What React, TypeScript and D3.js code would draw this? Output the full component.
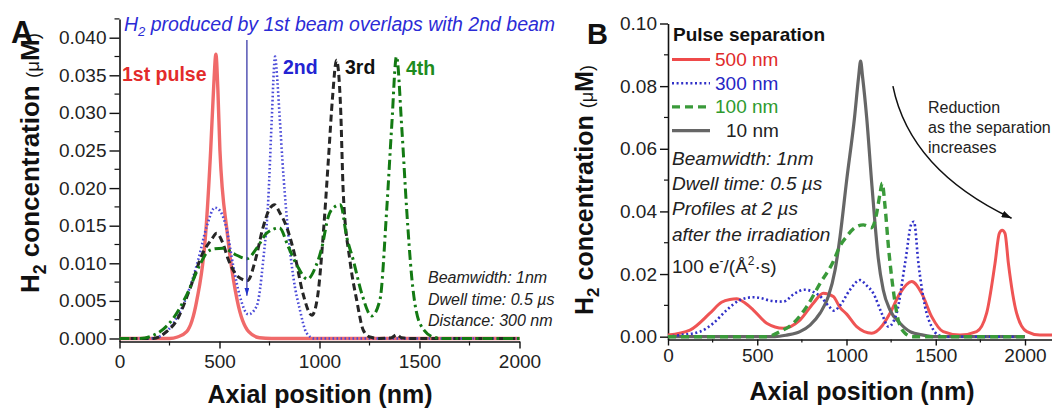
import React, { useEffect, useRef } from 'react';
import * as d3 from 'd3';

type Pt = [number, number];

// Panel A: H2 profiles after the 1st..4th pulse (axial position nm, concentration uM)
const pulse1st: Pt[] = [[0, 0], [250, 0], [290, 0.0002], [336, 0.0009], [386, 0.005], [431, 0.014], [456, 0.0251], [470, 0.033], [482, 0.0378], [492, 0.033], [502, 0.0251], [539, 0.014], [589, 0.005], [646, 0.0009], [700, 0.0001], [760, 0], [2000, 0]];
const pulse2nd: Pt[] = [[0, 0], [150, 0], [194, 0.0002], [269, 0.002], [336, 0.0056], [394, 0.0105], [436, 0.0149], [477, 0.0174], [502, 0.017], [536, 0.0145], [569, 0.0096], [602, 0.0056], [644, 0.0032], [686, 0.0043], [719, 0.0105], [744, 0.0185], [761, 0.029], [778, 0.0375], [790, 0.034], [802, 0.029], [815, 0.0235], [836, 0.0162], [869, 0.0082], [902, 0.0038], [936, 0.0007], [975, 0], [2000, 0]];
const pulse3rd: Pt[] = [[0, 0], [170, 0], [230, 0.0008], [286, 0.0024], [352, 0.0066], [419, 0.0115], [461, 0.0132], [486, 0.014], [515, 0.0128], [544, 0.0105], [594, 0.0082], [640, 0.0077], [680, 0.0105], [715, 0.0145], [750, 0.0172], [775, 0.0178], [800, 0.0168], [836, 0.0148], [877, 0.011], [917, 0.006], [962, 0.0031], [990, 0.0055], [1022, 0.015], [1045, 0.024], [1065, 0.032], [1085, 0.037], [1105, 0.031], [1119, 0.0193], [1152, 0.0104], [1186, 0.0051], [1219, 0.0011], [1252, 0.0002], [1300, 0], [1360, 0.0001], [1386, 0.0005], [1410, 0.0001], [1450, 0], [2000, 0]];
const pulse4th: Pt[] = [[0, 0], [100, 0], [202, 0.0009], [269, 0.0027], [336, 0.0058], [402, 0.0098], [436, 0.0114], [470, 0.0119], [519, 0.012], [577, 0.0112], [636, 0.0106], [686, 0.012], [736, 0.014], [800, 0.0147], [844, 0.0122], [886, 0.0098], [940, 0.0079], [980, 0.0095], [1011, 0.012], [1044, 0.0162], [1075, 0.0175], [1105, 0.0178], [1136, 0.0135], [1169, 0.0104], [1211, 0.006], [1261, 0.003], [1302, 0.0051], [1336, 0.0171], [1361, 0.0282], [1385, 0.0375], [1411, 0.0282], [1436, 0.0171], [1461, 0.0082], [1502, 0.002], [1569, 0.0002], [1620, 0], [2000, 0]];

// Panel B: profiles for different pulse separations
const sep500: Pt[] = [[0, 0.0005], [123, 0.0021], [235, 0.0075], [300, 0.011], [347, 0.0119], [385, 0.0121], [430, 0.0108], [478, 0.0085], [553, 0.0043], [646, 0.0027], [739, 0.0053], [814, 0.0107], [870, 0.0139], [926, 0.0128], [964, 0.0093], [1001, 0.0072], [1057, 0.0032], [1141, 0.0011], [1200, 0.0035], [1244, 0.0075], [1300, 0.0139], [1365, 0.0176], [1421, 0.0139], [1477, 0.0064], [1542, 0.0016], [1636, 0.0005], [1729, 0.0016], [1785, 0.0075], [1832, 0.0234], [1856, 0.033], [1872, 0.034], [1888, 0.033], [1907, 0.0234], [1953, 0.0075], [2010, 0.0016], [2084, 0.0005], [2200, 0.0005]];
const sep300: Pt[] = [[0, 0], [67, 0.0005], [179, 0.0016], [254, 0.0043], [329, 0.0085], [403, 0.0117], [478, 0.0126], [530, 0.0122], [571, 0.0115], [646, 0.0112], [710, 0.0138], [765, 0.015], [814, 0.0143], [860, 0.0125], [900, 0.0098], [930, 0.0083], [964, 0.01], [1020, 0.015], [1076, 0.0181], [1110, 0.0165], [1150, 0.0139], [1197, 0.0075], [1235, 0.0032], [1260, 0.0045], [1281, 0.0075], [1328, 0.0234], [1365, 0.0362], [1378, 0.0367], [1403, 0.0234], [1440, 0.0096], [1477, 0.0032], [1515, 0.0005], [1560, 0], [2000, 0]];
const sep100: Pt[] = [[0, 0], [550, 0], [627, 0.0016], [702, 0.0043], [777, 0.0096], [852, 0.017], [926, 0.024], [964, 0.029], [1001, 0.032], [1040, 0.0345], [1094, 0.0357], [1141, 0.0348], [1169, 0.0394], [1188, 0.0458], [1200, 0.049], [1216, 0.0415], [1235, 0.0287], [1262, 0.0149], [1290, 0.0053], [1328, 0.0011], [1370, 0], [2000, 0]];
const sep10: Pt[] = [[0, 0], [600, 0], [665, 0.0005], [739, 0.0016], [796, 0.0037], [852, 0.0075], [898, 0.0128], [936, 0.0213], [964, 0.032], [1001, 0.05], [1045, 0.07], [1068, 0.083], [1079, 0.088], [1090, 0.083], [1113, 0.07], [1140, 0.05], [1157, 0.038], [1178, 0.025], [1206, 0.0149], [1244, 0.0085], [1300, 0.0043], [1356, 0.0016], [1430, 0.0005], [1500, 0], [2000, 0]];

const xTicksA = [0, 500, 1000, 1500, 2000];
const yTicksA = [0, 0.005, 0.01, 0.015, 0.02, 0.025, 0.03, 0.035, 0.04];
const xTicksB = [0, 500, 1000, 1500, 2000];
const yTicksB = [0, 0.02, 0.04, 0.06, 0.08, 0.1];
const legendLabels = ['500 nm', '300 nm', '100 nm', '10 nm'];
const notesA = ['Beamwidth: 1nm', 'Dwell time: 0.5 \u00b5s', 'Distance: 300 nm'];
const notesB = ['Beamwidth: 1nm', 'Dwell time: 0.5 \u00b5s', 'Profiles at 2 \u00b5s', 'after the irradiation'];
const reductionLines = ['Reduction', 'as the separation', 'increases'];

const FONT = '"Liberation Sans", Arial, Helvetica, sans-serif';

export default function App() {
    const svgRef = useRef<SVGSVGElement>(null);

    useEffect(() => {
        const svg = d3.select(svgRef.current);
        svg.selectAll('*').remove();
        svg.attr('width', 1052).attr('height', 409).style('font-family', FONT);

        const defs = svg.append('defs');
        defs.append('marker').attr('id', 'headBlue')
            .attr('viewBox', '0 0 10 10').attr('refX', 10).attr('refY', 5)
            .attr('markerUnits', 'userSpaceOnUse').attr('markerWidth', 8).attr('markerHeight', 5)
            .attr('orient', 'auto').attr('preserveAspectRatio', 'none')
            .append('path').attr('d', 'M0,0L10,5L0,10z').attr('fill', '#2233cc');
        defs.append('marker').attr('id', 'headBlack')
            .attr('viewBox', '0 0 10 10').attr('refX', 10).attr('refY', 5)
            .attr('markerUnits', 'userSpaceOnUse').attr('markerWidth', 10).attr('markerHeight', 7)
            .attr('orient', 'auto').attr('preserveAspectRatio', 'none')
            .append('path').attr('d', 'M0,0L10,5L0,10z').attr('fill', '#111');

        const xA = d3.scaleLinear().domain([0, 2000]).range([119.5, 519.5]);
        const yA = d3.scaleLinear().domain([-0.0004, 0.0425]).range([341.5, 18.9]);
        const xB = d3.scaleLinear().domain([0, 2200]).range([668, 1060.7]);
        const yB = d3.scaleLinear().domain([-0.0009, 0.1]).range([339.5, 23.5]);

        function axes(x, y, xt, yt, yFmt, o) {
            const g = svg.append('g');
            const gx = g.append('g').attr('transform', `translate(0,${y.range()[0]})`)
                .call(d3.axisBottom(x).tickValues(xt).tickSize(o.xMajor).tickPadding(o.xPad).tickSizeOuter(0).tickFormat(d3.format('d')));
            const gy = g.append('g').attr('transform', `translate(${x.range()[0]},0)`)
                .call(d3.axisLeft(y).tickValues(yt).tickSize(o.yMajor).tickPadding(3).tickSizeOuter(0).tickFormat(d3.format(yFmt)));
            [gx, gy].forEach(a => {
                a.attr('font-family', FONT).attr('font-size', 19);
                a.select('.domain').attr('stroke', '#111').attr('stroke-width', 1.6);
                a.selectAll('.tick line').attr('stroke', '#111').attr('stroke-width', 1.4);
                a.selectAll('.tick text').attr('fill', '#222');
            });
            o.xMinor.forEach(v => {
                g.append('line').attr('x1', x(v)).attr('x2', x(v))
                    .attr('y1', y.range()[0]).attr('y2', y.range()[0] + o.xMinorLen)
                    .attr('stroke', '#111').attr('stroke-width', 1.2);
            });
            o.yMinor.forEach(v => {
                g.append('line').attr('y1', y(v)).attr('y2', y(v))
                    .attr('x1', x.range()[0]).attr('x2', x.range()[0] - o.yMinorLen)
                    .attr('stroke', '#111').attr('stroke-width', 1.2);
            });
        }

        const xMinorA = d3.range(250, 2000, 500);
        const yMinorA = d3.range(0.0025, 0.043, 0.005);
        const xMinorB = d3.range(250, 2200, 500);
        const yMinorB = d3.range(0.01, 0.1, 0.02);

        axes(xA, yA, xTicksA, yTicksA, '.3f', {xMajor: 7, xPad: 6, yMajor: 10, xMinor: xMinorA, yMinor: yMinorA, xMinorLen: 4, yMinorLen: 5});
        axes(xB, yB, xTicksB, yTicksB, '.2f', {xMajor: 6, xPad: 3, yMajor: 8, xMinor: xMinorB, yMinor: yMinorB, xMinorLen: 3, yMinorLen: 4});

        function curve(data, x, y, color, width, dash) {
            const line = d3.line<Pt>().x(d => x(d[0])).y(d => y(d[1])).curve(d3.curveMonotoneX);
            svg.append('path').datum(data)
                .attr('fill', 'none').attr('stroke', color).attr('stroke-width', width)
                .attr('stroke-dasharray', dash).attr('stroke-linejoin', 'round')
                .attr('d', line);
        }

        // panel A curves
        curve(pulse1st, xA, yA, '#f06a6a', 3.4, null);
        curve(pulse2nd, xA, yA, '#4a4ad8', 2.6, '1.6,2.4');
        curve(pulse3rd, xA, yA, '#262626', 3, '7,4');
        curve(pulse4th, xA, yA, '#137a13', 3, '10,4,2.5,4');

        // panel B curves
        curve(sep500, xB, yB, '#ef5454', 3, null);
        curve(sep10, xB, yB, '#666666', 3.2, null);
        curve(sep300, xB, yB, '#3030c8', 2.6, '2,2.6');
        curve(sep100, xB, yB, '#3a9a3a', 3.4, '8,5');

        // panel letters
        svg.append('text').attr('x', 11).attr('y', 43).attr('font-size', 31).attr('font-weight', 'bold').attr('fill', '#111').text('A');
        svg.append('text').attr('x', 587).attr('y', 44).attr('font-size', 29).attr('font-weight', 'bold').attr('fill', '#111').text('B');

        // y titles
        function yTitle(x0, y0, size) {
            const t = svg.append('text').attr('transform', `translate(${x0},${y0}) rotate(-90)`)
                .attr('font-weight', 'bold').attr('font-size', size).attr('fill', '#111');
            t.append('tspan').text('H');
            t.append('tspan').attr('font-size', size * 0.68).attr('dy', size * 0.25).text('2');
            t.append('tspan').attr('dy', -size * 0.25).text(' concentration ');
            t.append('tspan').attr('font-weight', 'normal').attr('font-size', size * 0.72).text('(\u03bc');
            t.append('tspan').text('M');
            t.append('tspan').attr('font-weight', 'normal').attr('font-size', size * 0.72).text(')');
        }
        yTitle(39, 293, 26);
        yTitle(593, 315, 25);

        // x titles
        svg.append('text').attr('x', 320).attr('y', 403).attr('text-anchor', 'middle')
            .attr('font-size', 25).attr('font-weight', 'bold').attr('fill', '#111').text('Axial position (nm)');
        svg.append('text').attr('x', 862).attr('y', 400).attr('text-anchor', 'middle')
            .attr('font-size', 25).attr('font-weight', 'bold').attr('fill', '#111').text('Axial position (nm)');

        // panel A annotations
        const title = svg.append('text').attr('x', 124).attr('y', 31).attr('font-size', 19.5)
            .attr('font-style', 'italic').attr('fill', '#2b2bd6');
        title.append('tspan').text('H');
        title.append('tspan').attr('font-size', 13).attr('dy', 5).text('2');
        title.append('tspan').attr('dy', -5).text(' produced by 1st beam overlaps with 2nd beam');

        svg.append('line').attr('x1', xA(637)).attr('x2', xA(637))
            .attr('y1', yA(0.0397)).attr('y2', yA(0.0057))
            .attr('stroke', '#3a3aa8').attr('stroke-width', 1.3).attr('marker-end', 'url(#headBlue)');

        const pulseLabel = (txt, x, y, color) => svg.append('text').attr('x', x).attr('y', y)
            .attr('font-size', 19.5).attr('font-weight', 'bold').attr('fill', color).text(txt);
        pulseLabel('1st pulse', 122, 81, '#e32b2b');
        pulseLabel('2nd', 283, 74, '#2323d2');
        pulseLabel('3rd', 345, 74, '#111');
        pulseLabel('4th', 406, 75, '#1e8c1e');

        notesA.forEach((s, i) => {
            svg.append('text').attr('x', 428).attr('y', 283 + i * 21.5).attr('font-size', 16)
                .attr('font-style', 'italic').attr('fill', '#222').text(s);
        });

        // panel B legend
        svg.append('text').attr('x', 673).attr('y', 41).attr('font-size', 19)
            .attr('font-weight', 'bold').attr('fill', '#111').text('Pulse separation');
        const legStyles = [
            {c: '#ef4a4a', t: '#e02a2a', w: 3, d: null},
            {c: '#3030c8', t: '#2626c4', w: 2.6, d: '2,2.6'},
            {c: '#3a9a3a', t: '#2e9a2e', w: 3.4, d: '8,5'},
            {c: '#666666', t: '#222', w: 3.4, d: null},
        ];
        legendLabels.forEach((s, i) => {
            const yy = 59.5 + i * 23.7;
            const st = legStyles[i];
            svg.append('line').attr('x1', 672).attr('x2', 710).attr('y1', yy).attr('y2', yy)
                .attr('stroke', st.c).attr('stroke-width', st.w).attr('stroke-dasharray', st.d);
            svg.append('text').attr('x', i === 3 ? 726 : 715).attr('y', yy + 6.5).attr('font-size', 19)
                .attr('fill', st.t).text(s);
        });

        notesB.forEach((s, i) => {
            svg.append('text').attr('x', 672).attr('y', 165 + i * 25.2).attr('font-size', 19)
                .attr('font-style', 'italic').attr('fill', '#222').text(s);
        });
        const dose = svg.append('text').attr('x', 672).attr('y', 273).attr('font-size', 19).attr('fill', '#222');
        dose.append('tspan').text('100 e');
        dose.append('tspan').attr('font-size', 12).attr('dy', -8).text('-');
        dose.append('tspan').attr('dy', 8).text('/(\u00c5');
        dose.append('tspan').attr('font-size', 12).attr('dy', -8).text('2');
        dose.append('tspan').attr('dy', 8).text('\u00b7s)');

        // reduction arrow
        const p0 = [xB(1260), yB(0.080)];
        const p1 = [xB(1356), yB(0.0532)];
        const p2 = [xB(1925), yB(0.0378)];
        svg.append('path').attr('d', `M${p0[0]},${p0[1]}Q${p1[0]},${p1[1]} ${p2[0]},${p2[1]}`)
            .attr('fill', 'none').attr('stroke', '#111').attr('stroke-width', 1.5)
            .attr('marker-end', 'url(#headBlack)');
        reductionLines.forEach((s, i) => {
            svg.append('text').attr('x', 928).attr('y', 113 + i * 20).attr('font-size', 16)
                .attr('fill', '#222').text(s);
        });
    }, []);

    return (
        <div style={{position: 'absolute', left: 0, top: 0, width: 1052, height: 409, background: '#fff'}}>
            <svg ref={svgRef}></svg>
        </div>
    );
}
